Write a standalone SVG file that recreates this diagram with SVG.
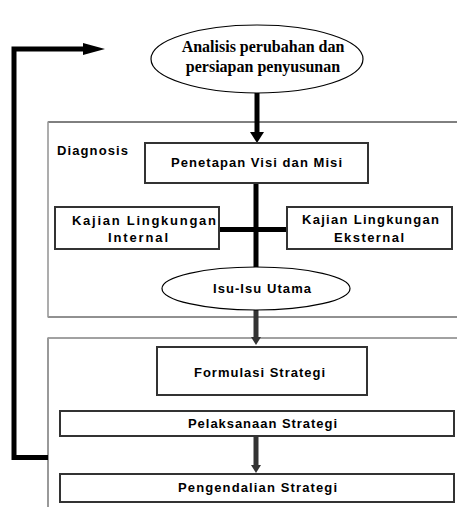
<svg xmlns="http://www.w3.org/2000/svg" width="457" height="507" viewBox="0 0 457 507">
  <defs>
    <style>
      .lbl { font-family: "Liberation Sans", Arial, sans-serif; font-weight: bold; font-size: 13px; fill: #000; }
      .serif { font-family: "Liberation Serif", "Times New Roman", serif; font-weight: bold; font-size: 16px; fill: #000; text-anchor: middle; }
      .box { fill: #fff; stroke: #333; stroke-width: 2; }
      .oval { fill: #fff; stroke: #000; stroke-width: 1.2; }
      .thick { fill: none; stroke: #000; stroke-width: 5; }
      .grayarrow { fill: none; stroke: #333; stroke-width: 5; }
    </style>
    <marker id="headBig" viewBox="0 -7 11 14" refX="0" refY="0" markerWidth="11" markerHeight="14" markerUnits="userSpaceOnUse" orient="auto">
      <path d="M0,-7 L11,0 L0,7 Z" fill="#000"/>
    </marker>
    <marker id="headLong" viewBox="0 -6 22 12" refX="0" refY="0" markerWidth="22" markerHeight="12" markerUnits="userSpaceOnUse" orient="auto">
      <path d="M0,-6 L22,0 L0,6 Z" fill="#000"/>
    </marker>
    <marker id="headSmall" viewBox="0 -5 8 10" refX="0" refY="0" markerWidth="8" markerHeight="10" markerUnits="userSpaceOnUse" orient="auto">
      <path d="M0,-5 L8,0 L0,5 Z" fill="#333"/>
    </marker>
  </defs>

  <rect x="0" y="0" width="457" height="507" fill="#fff"/>

  <!-- Panels -->
  <g id="panel-diagnosis">
    <line x1="48" y1="122" x2="457" y2="122" stroke="#000" stroke-width="1"/>
    <line x1="48" y1="317" x2="457" y2="317" stroke="#222" stroke-width="1"/>
    <line x1="48" y1="121.5" x2="48" y2="317.5" stroke="#999" stroke-width="1.6"/>
    <text class="lbl" x="57" y="155" textLength="71" lengthAdjust="spacing">Diagnosis</text>
  </g>
  <g id="panel-strategi">
    <line x1="48" y1="338" x2="457" y2="338" stroke="#444" stroke-width="1"/>
    <line x1="48" y1="337.5" x2="48" y2="507" stroke="#999" stroke-width="2"/>
  </g>

  <!-- Connectors -->
  <g id="connectors">
    <line class="thick" x1="257" y1="93" x2="257" y2="132" marker-end="url(#headBig)"/>
    <line class="thick" x1="256" y1="183" x2="256" y2="268"/>
    <line class="thick" x1="219" y1="229.5" x2="287" y2="229.5"/>
    <line class="grayarrow" x1="256" y1="310" x2="256" y2="337" marker-end="url(#headSmall)"/>
    <line class="grayarrow" x1="256" y1="436" x2="256" y2="465" marker-end="url(#headSmall)"/>
    <path class="thick" d="M48,457.5 H14 V49 H83" marker-end="url(#headLong)"/>
  </g>

  <!-- Nodes -->
  <g id="node-analisis">
    <ellipse class="oval" cx="257" cy="59" rx="106" ry="34"/>
    <text class="serif" x="263" y="52">Analisis perubahan dan</text>
    <text class="serif" x="263" y="72">persiapan penyusunan</text>
  </g>

  <g id="node-penetapan">
    <rect class="box" x="145" y="143" width="223" height="40"/>
    <text class="lbl" x="171" y="167" textLength="171" lengthAdjust="spacing">Penetapan Visi dan Misi</text>
  </g>

  <g id="node-internal">
    <rect class="box" x="55" y="207" width="164" height="42"/>
    <text class="lbl" x="72" y="225" textLength="144" lengthAdjust="spacing">Kajian Lingkungan</text>
    <text class="lbl" x="108" y="242" textLength="60" lengthAdjust="spacing">Internal</text>
  </g>

  <g id="node-eksternal">
    <rect class="box" x="287" y="207" width="165" height="42"/>
    <text class="lbl" x="302" y="224" textLength="137" lengthAdjust="spacing">Kajian Lingkungan</text>
    <text class="lbl" x="334" y="241.5" textLength="70" lengthAdjust="spacing">Eksternal</text>
  </g>

  <g id="node-isu">
    <ellipse class="oval" cx="256" cy="288.5" rx="94" ry="21.5"/>
    <text class="lbl" x="213" y="293" textLength="98" lengthAdjust="spacing">Isu-Isu Utama</text>
  </g>

  <g id="node-formulasi">
    <rect class="box" x="157" y="347" width="210" height="48"/>
    <text class="lbl" x="194" y="377" textLength="131" lengthAdjust="spacing">Formulasi Strategi</text>
  </g>

  <g id="node-pelaksanaan">
    <rect class="box" x="60" y="411" width="394" height="25"/>
    <text class="lbl" x="188" y="428" textLength="149" lengthAdjust="spacing">Pelaksanaan Strategi</text>
  </g>

  <g id="node-pengendalian">
    <rect class="box" x="60" y="474" width="394" height="28"/>
    <text class="lbl" x="178" y="492" textLength="159" lengthAdjust="spacing">Pengendalian Strategi</text>
  </g>
</svg>
